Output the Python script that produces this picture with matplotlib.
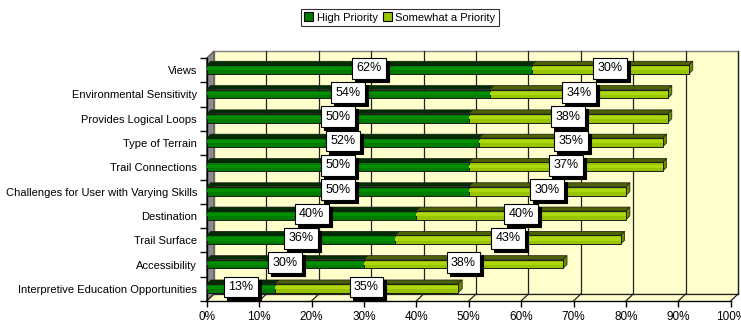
import matplotlib
matplotlib.use("Agg")
import matplotlib.pyplot as plt
from matplotlib.patches import Polygon, Patch
import matplotlib.transforms as mtransforms

plt.rcParams['font.family'] = ['Liberation Sans', 'DejaVu Sans']

categories = ["Views", "Environmental Sensitivity", "Provides Logical Loops",
              "Type of Terrain", "Trail Connections",
              "Challenges for User with Varying Skills", "Destination",
              "Trail Surface", "Accessibility",
              "Interpretive Education Opportunities"]
high = [62, 54, 50, 52, 50, 50, 40, 36, 30, 13]
somewhat = [30, 34, 38, 35, 37, 30, 40, 43, 38, 35]
series_names = ["High Priority", "Somewhat a Priority"]
xticks = list(range(0, 101, 10))
xticklabels = [f"{t}%" for t in xticks]

W, H = 741, 322
fig = plt.figure(figsize=(W / 100, H / 100), dpi=100)
x0px, x100px = 206.7, 730.7
sx = (x100px - x0px) / 100.0
sy = 24.3
front_bottom = 301
top_px = 51
ax = fig.add_axes([x0px / W, (H - front_bottom) / H, (W - x0px) / W, (front_bottom - top_px) / H])
ax.set_xlim(0, (W - x0px) / sx)
ax.set_ylim(-0.5, -0.5 + (front_bottom - top_px) / sy)
for s in ax.spines.values():
    s.set_visible(False)

n = len(categories)
ypos = [n - 1 - i for i in range(n)]
DXW, DYW = 7.3 / sx, 7.0 / sy
ybot, ytop = -0.5, n - 0.5

# back wall
wall = Polygon([(DXW, ybot + DYW), (100 + DXW, ybot + DYW), (100 + DXW, ytop + DYW), (DXW, ytop + DYW)],
               closed=True, fc="#FFFFCC", ec="#808080", lw=1.0, clip_on=False, zorder=0)
ax.add_patch(wall)
# floor
floor = Polygon([(0, ybot), (100, ybot), (100 + DXW, ybot + DYW), (DXW, ybot + DYW)],
                closed=True, fc="#FFFFCC", ec="none", clip_on=False, zorder=0.5)
ax.add_patch(floor)
# side wall
side = Polygon([(0, ybot), (DXW, ybot + DYW), (DXW, ytop + DYW), (0, ytop)],
               closed=True, fc="#8C8C8C", ec="#555555", lw=0.8, clip_on=False, zorder=0.6)
ax.add_patch(side)
# gridlines on back wall and floor diagonals
for t in xticks:
    if t > 0:
        ax.plot([t + DXW, t + DXW], [ybot + DYW, ytop + DYW], color="#222222", lw=0.9, zorder=0.7, clip_on=False)
    ax.plot([t, t + DXW], [ybot, ybot + DYW], color="#222222", lw=0.9, zorder=0.7, clip_on=False)
ax.plot([DXW, 100 + DXW], [ybot + DYW, ybot + DYW], color="#222222", lw=0.9, zorder=0.7, clip_on=False)
# front axes lines
ax.plot([0, 100], [ybot, ybot], color="black", lw=1.0, zorder=3, clip_on=False)
ax.plot([0, 0], [ybot, ytop], color="black", lw=1.0, zorder=3, clip_on=False)

# ticks
ax.set_xticks(xticks)
ax.set_xticklabels(xticklabels, fontsize=8.5)
ax.tick_params(axis="x", length=4, width=1, pad=3, direction="out")
ax.set_yticks(ypos)
ax.set_yticklabels(categories, fontsize=8)
ax.tick_params(axis="y", which="major", length=0, pad=7)
ax.set_yticks([i - 0.5 for i in range(n + 1)], minor=True)
ax.tick_params(axis="y", which="minor", length=5, width=1, direction="out")

# bars
h = 4.4 / sy
bdx, bdy = 4.0 / sx, 4.0 / sy
colors = {
    0: dict(front="#007A00", hl="#008F00", top="#002E00", cap="#004400"),
    1: dict(front="#99C400", hl="#ADD810", top="#4C6200", cap="#6B8A00"),
}
for yc, a, b in zip(ypos, high, somewhat):
    yc_b = yc + 0.02
    segs = [(0, a, 0), (a, b, 1)]
    for left, width, k in segs:
        c = colors[k]
        ax.barh(yc_b, width, left=left, height=2 * h, color=c["front"], edgecolor="#1a1a1a",
                linewidth=0.7, zorder=4, clip_on=False)
        ax.barh(yc_b + 0.03, width, left=left, height=h * 0.7, color=c["hl"], edgecolor="none",
                linewidth=0, zorder=4.1, clip_on=False)
        top = Polygon([(left, yc_b + h), (left + width, yc_b + h), (left + width + bdx, yc_b + h + bdy),
                       (left + bdx, yc_b + h + bdy)], closed=True, fc=c["top"], ec="#1a1a1a", lw=0.5,
                      zorder=3.9, clip_on=False)
        ax.add_patch(top)
    end = a + b
    cap = Polygon([(end, yc_b - h), (end + bdx, yc_b - h + bdy), (end + bdx, yc_b + h + bdy), (end, yc_b + h)],
                  closed=True, fc=colors[1]["cap"], ec="#1a1a1a", lw=0.5, zorder=3.9, clip_on=False)
    ax.add_patch(cap)

# value labels with shadow
shadow_tr = mtransforms.offset_copy(ax.transData, fig=fig, x=3, y=-3, units="dots")
for yc, a, b in zip(ypos, high, somewhat):
    for xc, v in ((a / 2, a), (a + b / 2, b)):
        ly = yc + 0.08
        ax.text(xc, ly, f"{v}%", transform=shadow_tr, ha="center", va="center", fontsize=9,
                color="black", zorder=5,
                bbox=dict(boxstyle="square,pad=0.35", fc="black", ec="black", lw=0.8))
        ax.text(xc, ly, f"{v}%", ha="center", va="center", fontsize=9, color="black", zorder=6,
                bbox=dict(boxstyle="square,pad=0.35", fc="white", ec="black", lw=0.8))

# legend
handles = [Patch(fc=colors[0]["front"], ec="black", lw=0.8), Patch(fc=colors[1]["front"], ec="black", lw=0.8)]
leg = fig.legend(handles, series_names, loc="center", bbox_to_anchor=(400 / W, 1 - 17.5 / H), ncol=2,
                 fontsize=8, frameon=True, fancybox=False, handlelength=0.8, handleheight=0.8,
                 handletextpad=0.3, columnspacing=0.5, borderpad=0.35, borderaxespad=0)
leg.get_frame().set_edgecolor("black")
leg.get_frame().set_linewidth(0.8)

fig.savefig("out.png", dpi=100)
